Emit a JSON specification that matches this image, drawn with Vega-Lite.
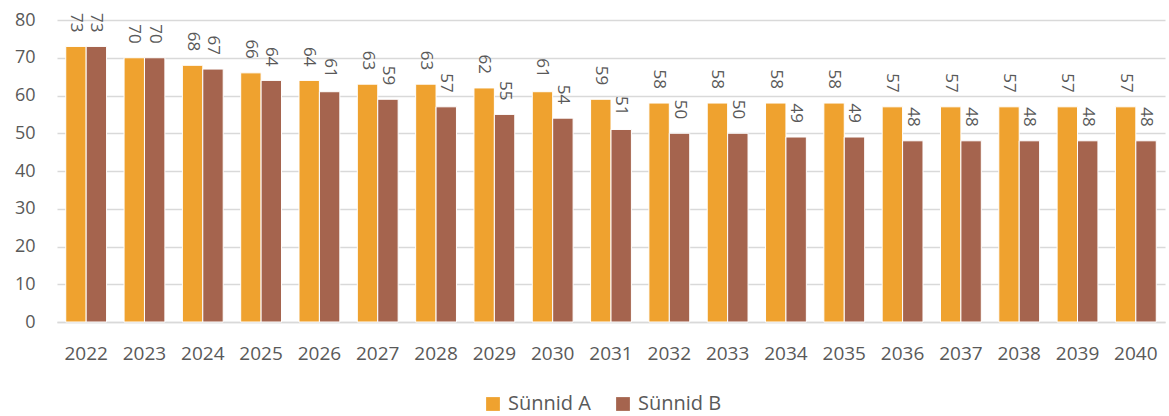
{
  "$schema": "https://vega.github.io/schema/vega-lite/v6.json",
  "autosize": {"type": "none"},
  "width": 1108,
  "height": 302,
  "padding": {"left": 57, "top": 20, "right": 4, "bottom": 94},
  "background": "white",
  "config": {
    "view": {"stroke": null},
    "font": "Open Sans"
  },
  "data": {
    "values": [
      {"year": "2022", "series": "Sünnid A", "value": 73}, {"year": "2022", "series": "Sünnid B", "value": 73},
      {"year": "2023", "series": "Sünnid A", "value": 70}, {"year": "2023", "series": "Sünnid B", "value": 70},
      {"year": "2024", "series": "Sünnid A", "value": 68}, {"year": "2024", "series": "Sünnid B", "value": 67},
      {"year": "2025", "series": "Sünnid A", "value": 66}, {"year": "2025", "series": "Sünnid B", "value": 64},
      {"year": "2026", "series": "Sünnid A", "value": 64}, {"year": "2026", "series": "Sünnid B", "value": 61},
      {"year": "2027", "series": "Sünnid A", "value": 63}, {"year": "2027", "series": "Sünnid B", "value": 59},
      {"year": "2028", "series": "Sünnid A", "value": 63}, {"year": "2028", "series": "Sünnid B", "value": 57},
      {"year": "2029", "series": "Sünnid A", "value": 62}, {"year": "2029", "series": "Sünnid B", "value": 55},
      {"year": "2030", "series": "Sünnid A", "value": 61}, {"year": "2030", "series": "Sünnid B", "value": 54},
      {"year": "2031", "series": "Sünnid A", "value": 59}, {"year": "2031", "series": "Sünnid B", "value": 51},
      {"year": "2032", "series": "Sünnid A", "value": 58}, {"year": "2032", "series": "Sünnid B", "value": 50},
      {"year": "2033", "series": "Sünnid A", "value": 58}, {"year": "2033", "series": "Sünnid B", "value": 50},
      {"year": "2034", "series": "Sünnid A", "value": 58}, {"year": "2034", "series": "Sünnid B", "value": 49},
      {"year": "2035", "series": "Sünnid A", "value": 58}, {"year": "2035", "series": "Sünnid B", "value": 49},
      {"year": "2036", "series": "Sünnid A", "value": 57}, {"year": "2036", "series": "Sünnid B", "value": 48},
      {"year": "2037", "series": "Sünnid A", "value": 57}, {"year": "2037", "series": "Sünnid B", "value": 48},
      {"year": "2038", "series": "Sünnid A", "value": 57}, {"year": "2038", "series": "Sünnid B", "value": 48},
      {"year": "2039", "series": "Sünnid A", "value": 57}, {"year": "2039", "series": "Sünnid B", "value": 48},
      {"year": "2040", "series": "Sünnid A", "value": 57}, {"year": "2040", "series": "Sünnid B", "value": 48}
    ]
  },
  "encoding": {
    "x": {
      "field": "year", "type": "nominal", "title": null,
      "scale": {"paddingInner": 0.3, "paddingOuter": 0.15},
      "axis": {
        "labelAngle": 0, "labelFontSize": 19, "labelColor": "#595959",
        "labelPadding": 22, "ticks": false, "domain": true,
        "domainColor": "#d9d9d9", "domainWidth": 1.5, "grid": false
      }
    },
    "xOffset": {"field": "series", "type": "nominal", "scale": {"paddingInner": 0}},
    "y": {
      "field": "value", "type": "quantitative", "title": null,
      "scale": {"domain": [0, 80]},
      "axis": {
        "values": [0, 10, 20, 30, 40, 50, 60, 70, 80],
        "labelFontSize": 18, "labelColor": "#595959", "labelPadding": 22,
        "ticks": false, "domain": false,
        "gridColor": "#d9d9d9", "gridWidth": 1.5
      }
    },
    "color": {
      "field": "series", "type": "nominal", "title": null,
      "scale": {"domain": ["Sünnid A", "Sünnid B"], "range": ["#EFA22F", "#A5644E"]},
      "legend": {
        "orient": "none", "direction": "horizontal",
        "legendX": 426, "legendY": 374,
        "symbolType": "square", "symbolSize": 190, "symbolStrokeWidth": 0,
        "labelFontSize": 20, "labelColor": "#595959", "columnPadding": 22,
        "labelOffset": 5
      }
    }
  },
  "layer": [
    {
      "mark": {"type": "bar", "stroke": "white", "strokeWidth": 1}
    },
    {
      "mark": {
        "type": "text", "angle": 90, "align": "right", "baseline": "middle",
        "dx": -14, "fontSize": 17, "color": "#595959"
      },
      "encoding": {
        "text": {"field": "value", "type": "quantitative"},
        "color": {"value": "#595959"}
      }
    }
  ]
}
